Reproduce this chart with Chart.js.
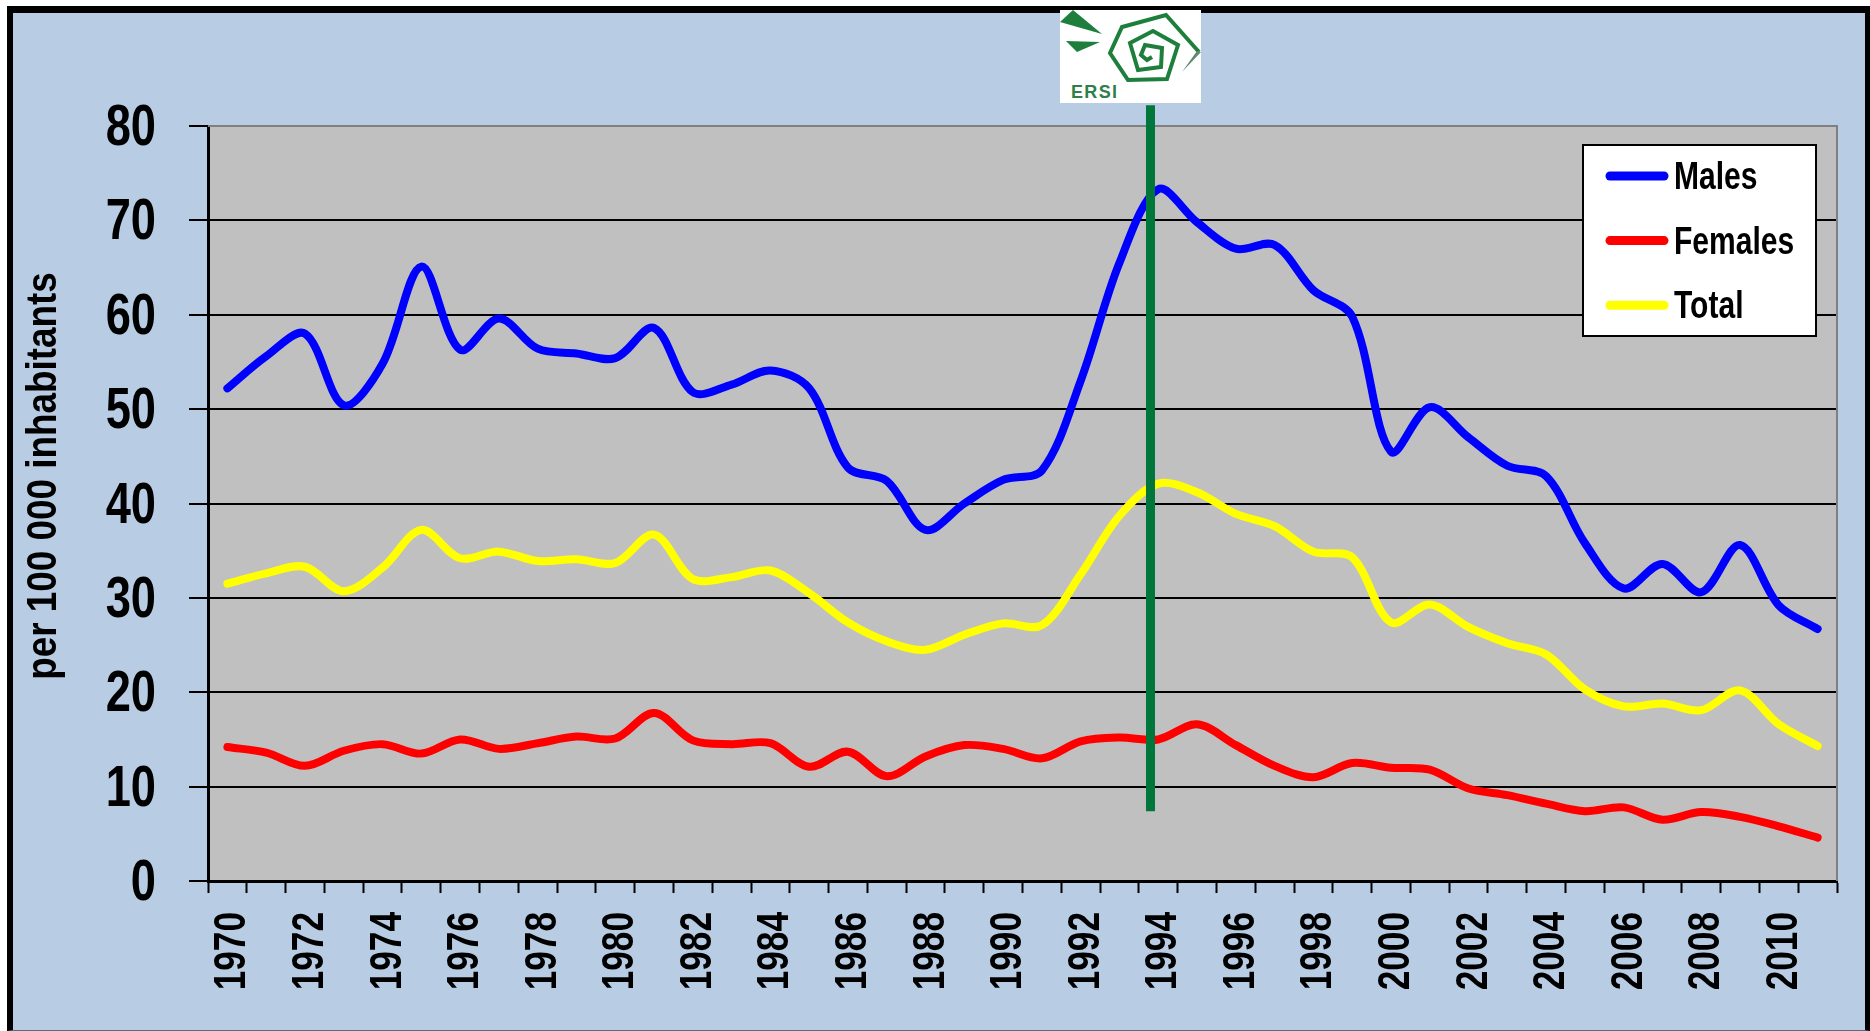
<!DOCTYPE html>
<html>
<head>
<meta charset="utf-8">
<title>ERSI chart</title>
<script src="https://cdn.jsdelivr.net/npm/chart.js@4"></script>
<style>
    html, body { margin: 0; padding: 0; background: #fff; overflow: hidden; }
    #page { position: absolute; left: 0; top: 0; width: 1870px; height: 1031px; }
    #frame { position: absolute; left: 7px; top: 6px; right: 0; bottom: 0; box-sizing: border-box;
             background: #b8cce4; border-left: 6px solid #000; border-top: 7px solid #000;
             border-right: 5px solid #000; border-bottom: 1px solid #5f6b78; }
    #wrap { position: absolute; left: 0; top: 0; width: 1870px; height: 1031px; }
    #logo { position: absolute; left: 1060px; top: 10px; width: 141px; height: 93px; background: #fff; }
</style>
</head>
<body>
<div id="page">
    <div id="frame"></div>
    <div id="wrap"><canvas id="rate-chart" width="1870" height="1031"></canvas></div>
    <svg id="logo" viewBox="0 0 141 93" xmlns="http://www.w3.org/2000/svg">
        <g fill="#1e7f3c">
            <polygon points="0,12 13,0 42,24" />
            <polygon points="6,31 40,32 17,42" />
        </g>
        <polyline fill="none" stroke="#1e7f3c" stroke-width="4"
            points="139,42 106,5 62,17 50,43 68,70 107,69 118,35 93,21 70,33 78,60 101,57 102,38 85,35 81,45 87,50 92,47" />
        <polygon points="141,42 137,41 122,62" fill="#5f8a70" />
        <text x="11" y="88" font-family="Liberation Sans" font-weight="bold" font-size="18" textLength="46" fill="#2f7f4a">ERSI</text>
    </svg>
</div>
<script>
    const years = ['1970','1971','1972','1973','1974','1975','1976','1977','1978','1979','1980','1981','1982','1983',
        '1984','1985','1986','1987','1988','1989','1990','1991','1992','1993','1994','1995','1996','1997',
        '1998','1999','2000','2001','2002','2003','2004','2005','2006','2007','2008','2009','2010','2011'];
    const males = [52.2,55.6,58.0,50.4,54.8,65.1,56.3,59.6,56.4,55.9,55.4,58.6,51.8,52.6,
        54.1,52.2,43.8,42.4,37.2,40.0,42.5,43.5,53.0,65.5,73.3,69.8,67.0,67.4,
        62.6,59.8,45.5,50.2,47.0,44.0,42.9,35.8,31.0,33.6,30.6,35.6,29.2,26.7];
    const females = [14.2,13.6,12.2,13.8,14.5,13.5,15.0,14.0,14.6,15.3,15.1,17.8,14.9,14.5,
        14.6,12.1,13.7,11.1,13.2,14.4,14.0,13.0,14.8,15.2,15.0,16.6,14.4,12.2,
        11.0,12.5,12.0,11.8,9.8,9.1,8.2,7.4,7.8,6.5,7.3,6.8,5.8,4.6];
    const total = [31.5,32.6,33.3,30.7,33.2,37.2,34.2,34.9,33.9,34.1,33.7,36.7,32.0,32.2,
        32.9,30.5,27.4,25.4,24.5,26.1,27.3,27.1,32.5,38.7,42.1,41.2,38.9,37.6,
        34.9,34.3,27.4,29.3,26.9,25.2,24.0,20.3,18.5,18.8,18.1,20.2,16.6,14.3];
    const yTitle = 'per 100 000 inhabitants';

    const fontFamily = '"Liberation Sans", sans-serif';

    // no narrow bold font is installed, so squeeze the text along its own direction
    function narrowText(ctx, text, x, y, size, squeeze, angle, align, baseline) {
        ctx.save();
        ctx.translate(x, y);
        ctx.rotate(angle);
        ctx.scale(squeeze, 1);
        ctx.font = 'bold ' + size + 'px ' + fontFamily;
        ctx.fillStyle = '#000';
        ctx.textAlign = align;
        ctx.textBaseline = baseline;
        ctx.fillText(text, 0, 0);
        ctx.restore();
    }

    // plot background and its grey edge, under the lines
    const plotBack = {
        id: 'plotBack',
        beforeDraw(chart) {
            const { ctx, chartArea: a } = chart;
            ctx.save();
            ctx.fillStyle = '#c0c0c0';
            ctx.fillRect(a.left, a.top, a.width, a.height);
            ctx.restore();
        },
        beforeDatasetsDraw(chart) {
            const { ctx, chartArea: a } = chart;
            ctx.save();
            ctx.strokeStyle = '#808080';
            ctx.lineWidth = 2;
            ctx.beginPath();
            ctx.moveTo(a.left, a.top);
            ctx.lineTo(a.right, a.top);
            ctx.lineTo(a.right, a.bottom);
            ctx.stroke();
            ctx.restore();
        }
    };

    // tick labels, y title, green 1994 marker and the boxed legend
    const overlay = {
        id: 'overlay',
        afterDraw(chart) {
            const { ctx, scales } = chart;

            scales.x.ticks.forEach((tick, i) => {
                if (tick.label) {
                    narrowText(ctx, tick.label, scales.x.getPixelForValue(i) + 18, 912, 44, 0.8, -Math.PI / 2, 'right', 'alphabetic');
                }
            });
            scales.y.ticks.forEach((tick) => {
                narrowText(ctx, tick.label, 156, scales.y.getPixelForValue(tick.value) + 3, 58, 0.78, 0, 'right', 'middle');
            });
            narrowText(ctx, yTitle, 56, 476, 43, 0.857, -Math.PI / 2, 'center', 'alphabetic');

            ctx.save();
            const mx = scales.x.getPixelForValue(23.8);
            ctx.strokeStyle = '#00763a';
            ctx.lineWidth = 9;
            ctx.beginPath();
            ctx.moveTo(mx, scales.y.getPixelForValue(82.2));
            ctx.lineTo(mx, scales.y.getPixelForValue(7.4));
            ctx.stroke();

            ctx.fillStyle = '#fff';
            ctx.strokeStyle = '#000';
            ctx.lineWidth = 2;
            ctx.fillRect(1583, 145, 233, 191);
            ctx.strokeRect(1583, 145, 233, 191);
            chart.data.datasets.forEach((ds, i) => {
                const y = 176 + i * 64.6;
                ctx.strokeStyle = ds.borderColor;
                ctx.lineWidth = 9;
                ctx.lineCap = 'round';
                ctx.beginPath();
                ctx.moveTo(1610, y);
                ctx.lineTo(1664, y);
                ctx.stroke();
                narrowText(ctx, ds.label, 1674, y + 13, 38, 0.79, 0, 'left', 'alphabetic');
            });
            ctx.restore();
        }
    };

    const lineStyle = { fill: false, tension: 0.33, borderWidth: 8, borderCapStyle: 'round', pointRadius: 0 };

    new Chart(document.getElementById('rate-chart'), {
        type: 'line',
        data: {
            labels: years,
            datasets: [
                { label: 'Males', data: males, borderColor: '#0000ff', ...lineStyle },
                { label: 'Females', data: females, borderColor: '#ff0000', ...lineStyle },
                { label: 'Total', data: total, borderColor: '#ffff00', ...lineStyle }
            ]
        },
        options: {
            responsive: false,
            animation: false,
            layout: { padding: { top: 126, right: 33, left: 0, bottom: 0 } },
            plugins: { legend: { display: false }, tooltip: { enabled: false }, title: { display: false } },
            scales: {
                x: {
                    offset: true,
                    afterFit: (scale) => { scale.height = 150; },
                    grid: { offset: true, drawOnChartArea: false, tickLength: 12, tickColor: '#000', tickWidth: 2 },
                    border: { color: '#000', width: 3 },
                    ticks: {
                        display: false,
                        autoSkip: false,
                        callback(value, i) { return i % 2 ? '' : this.getLabelForValue(value); }
                    }
                },
                y: {
                    min: 0,
                    max: 80,
                    afterFit: (scale) => { scale.width = 208; },
                    grid: {
                        color: (c) => (c.tick.value === 80 ? 'rgba(0,0,0,0)' : '#000'),
                        lineWidth: 2,
                        tickLength: 19,
                        tickColor: '#000',
                        tickWidth: 2
                    },
                    border: { color: '#000', width: 3 },
                    ticks: { display: false, stepSize: 10 }
                }
            }
        },
        plugins: [plotBack, overlay]
    });
</script>
</body>
</html>
